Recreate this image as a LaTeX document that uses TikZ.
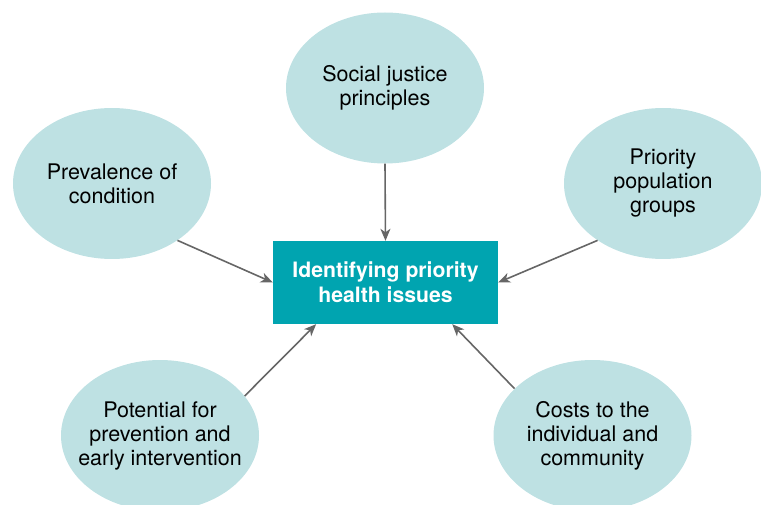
\documentclass[tikz,border=0pt]{standalone}
\usepackage{fontspec}
\setmainfont{TeX Gyre Heros}
\usetikzlibrary{shapes.geometric,arrows.meta}
\definecolor{ellfill}{HTML}{BEE1E3}
\definecolor{boxfill}{HTML}{00A4B0}
\definecolor{arrowgray}{HTML}{666666}
\tikzset{
  factor/.style={ellipse, fill=ellfill, minimum width=198pt, minimum height=151pt, inner sep=-15pt, align=center, font=\fontsize{21.5}{24}\selectfont, text=black},
  centerbox/.style={rectangle, fill=boxfill, minimum width=225pt, minimum height=83pt, inner sep=0pt, align=center, font=\fontsize{21.2}{25}\selectfont\bfseries, text=white},
  link/.style={draw=arrowgray, line width=1.6pt, -{Stealth[length=12pt,width=10pt,inset=3.5pt]}}
}
\begin{document}
\begin{tikzpicture}[x=1pt,y=-1pt]
\useasboundingbox (0,0) rectangle (761,505);
\clip (0,0) rectangle (761,505);
\node[centerbox] (box) at (385.5,282.5) {Identifying priority\\health issues};
\node[factor] (social) at (385,88) {Social justice\\principles};
\node[factor] (prev) at (112,183.5) {Prevalence of\\condition};
\node[factor] (pop) at (663,183.5) {Priority\\population\\groups};
\node[factor] (pot) at (160,435.5) {Potential for\\prevention and\\early intervention};
\node[factor] (cost) at (592.5,435.5) {Costs to the\\individual and\\community};
\draw[link] (social.south) -- (box.north);
\draw[link] (prev.-41) -- (box.west);
\draw[link] (pop.-139) -- (box.east);
\draw[link] (pot.25.5) -- (box.211.6);
\draw[link] (cost.149.4) -- (box.-32.8);
\end{tikzpicture}
\end{document}
